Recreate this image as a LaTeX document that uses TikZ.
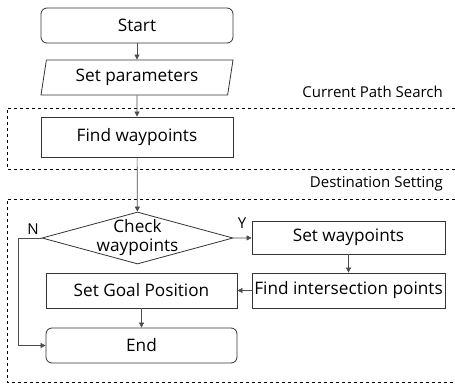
\documentclass[tikz,border=0pt]{standalone}
\usepackage{fontspec}
\setmainfont{Open Sans}
\usetikzlibrary{shapes.geometric,arrows.meta}
\begin{document}
\begin{tikzpicture}[x=1pt,y=-1pt,
    font=\fontsize{15}{18}\selectfont,
    >={Triangle[length=5pt,width=5pt]},
    box/.style={draw=black!80,line width=0.8pt,minimum width=192,minimum height=35,inner sep=0,
      font=\fontsize{17.2}{19}\selectfont},
    term/.style={box,rounded corners=6pt},
    io/.style={box,trapezium,trapezium left angle=72,trapezium right angle=108,trapezium stretches body},
    dec/.style={draw=black!80,line width=0.8pt,diamond,minimum width=191,minimum height=52,inner sep=0},
    group/.style={dashed,line width=0.8pt},
    conn/.style={draw=black!70,line width=0.7pt}]
      \useasboundingbox (0,0) rectangle (455,383);
      % groups
      \draw[group] (455,108) -- (7,108) -- (7,169) -- (455,169);
      \draw[group] (455,199) -- (7,199) -- (7,382) -- (455,382);
      \draw
        (443,92) node[anchor=east,inner sep=0] (cps){Current Path Search}
        (443,184) node[anchor=east,inner sep=0] (ds){Destination Setting};
      % steps
      \draw
        (137,25.5) node[term] (start){Start}
        (137,77.5) node[io] (param){Set parameters}
        (137,137) node[box,minimum height=40] (find){Find waypoints}
        (137.5,238) node[dec] (check){}
        (348.5,237.5) node[box,minimum width=193,minimum height=33] (setwp){Set waypoints}
        (348.5,290.5) node[box,minimum width=193] (inter){Find intersection points}
        (141.5,290.5) node[box,minimum width=191] (goal){Set Goal Position}
        (141.5,345.5) node[term,minimum width=191] (end){End};
      \node[align=center,font=\fontsize{17.2}{19}\selectfont] (checktxt) at (check) {Check\\waypoints};
      \draw
        (33,229) node (n){N}
        (242,223) node (y){Y};
      \begin{scope}[->]
        \draw[conn] (start) to (param);
        \draw[conn] (param) to (find);
        \draw[conn] (find) to (check);
        \draw[conn] (check.east) to (setwp);
        \draw[conn] (setwp) to (inter);
        \draw[conn] (inter) to (goal);
        \draw[conn] (goal) to (end);
        \draw[conn] (check.west) -- ++(-23,0) |- (end.west);
      \end{scope}
    \end{tikzpicture}
\end{document}
